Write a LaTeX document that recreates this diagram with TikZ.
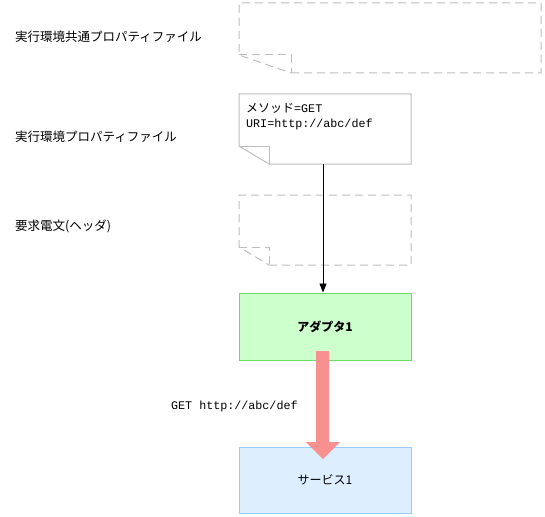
\documentclass[tikz,border=0pt]{standalone}
\usepackage{fontspec}
\setmainfont{Noto Sans CJK JP}
\newfontfamily\monofnt{Liberation Mono}
\usetikzlibrary{arrows.meta}
\definecolor{dashgray}{RGB}{190,190,190}
\definecolor{docgray}{RGB}{190,190,190}
\definecolor{adfill}{RGB}{204,255,204}
\definecolor{addraw}{RGB}{102,221,102}
\definecolor{svfill}{RGB}{221,238,255}
\definecolor{svdraw}{RGB}{153,204,255}
\definecolor{bigarrow}{RGB}{248,144,144}
\begin{document}
\begin{tikzpicture}[x=1pt,y=-1pt,
  lbl/.style={anchor=west,inner sep=0pt,font=\fontsize{12.5}{14}\selectfont},
  ghost/.style={draw=dashgray,line width=1pt,dash pattern=on 8pt off 5pt},
  solidoc/.style={draw=docgray,line width=1pt},
  box/.style={minimum width=172pt,minimum height=67pt,inner sep=0pt,line width=1pt,font=\fontsize{12}{14}\selectfont}]
\useasboundingbox[fill=white] (0,0) rectangle (545,516);
% left labels
\node[lbl] (l1) at (15,37) {実行環境共通プロパティファイル};
\node[lbl] (l2) at (15,137) {実行環境プロパティファイル};
\node[lbl] (l3) at (15,226) {要求電文(ヘッダ)};
% top ghost doc
\draw[ghost] (291,73) -- (541,73) -- (541,3) -- (239,3) -- (239,55) -- (291,73);
\draw[ghost] (239,55) -- (291,55) -- (291,73);
% second doc
\draw[solidoc] (269,164) -- (411,164) -- (411,94) -- (239,94) -- (239,146) -- cycle;
\draw[solidoc] (239,146) -- (269,146) -- (269,164);
\node[anchor=north west,inner sep=0pt,align=left,font=\fontsize{12}{15}\selectfont] (d2text) at (246,103) {メソッド{\monofnt\fontsize{11.7}{15}\selectfont =GET}\\{\monofnt\fontsize{11.7}{15}\selectfont URI=http://abc/def}};
\coordinate (d2) at (323,164);
% third ghost doc
\draw[ghost] (269,265) -- (411,265) -- (411,195) -- (239,195) -- (239,247) -- (269,265);
\draw[ghost] (239,247) -- (269,247) -- (269,265);
% adapter
\node[box,draw=addraw,fill=adfill,font=\fontsize{12}{14}\selectfont\bfseries] (ad) at (325,326.5) {アダプタ1};
% service
\node[box,draw=svdraw,fill=svfill,minimum height=66pt] (sv) at (325,480) {サービス1};
% connector
\draw[line width=0.8pt,-{Triangle[length=9pt,width=7pt]}] (d2) -- (ad.north -| d2);
% big arrow
\fill[bigarrow] (316,351) -- (329,351) -- (329,442) -- (340,442) -- (323,459) -- (306,442) -- (316,442) -- cycle;
\node[anchor=west,inner sep=0pt,font=\monofnt\fontsize{11.7}{14}\selectfont] (lab) at (171,406) {GET http://abc/def};
\end{tikzpicture}
\end{document}
